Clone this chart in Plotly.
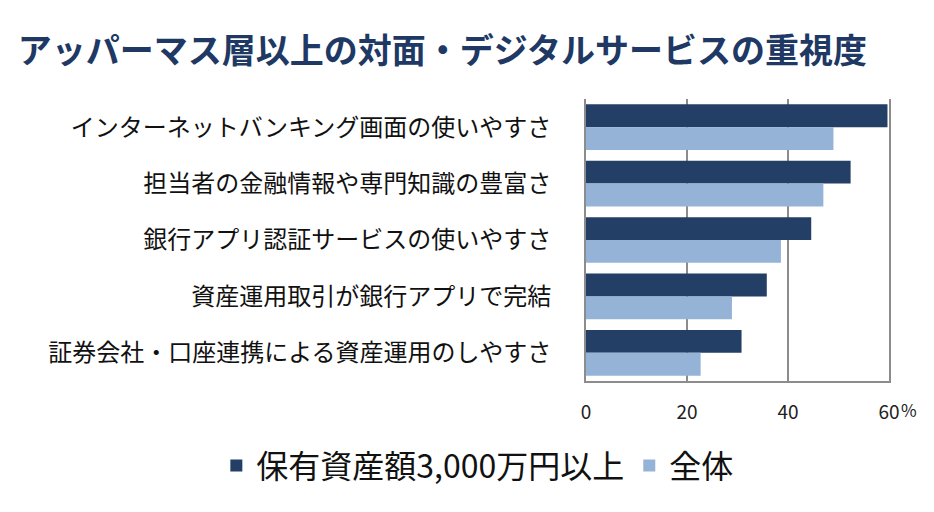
import plotly.graph_objects as go

categories = [
    "インターネットバンキング画面の使いやすさ",
    "担当者の金融情報や専門知識の豊富さ",
    "銀行アプリ認証サービスの使いやすさ",
    "資産運用取引が銀行アプリで完結",
    "証券会社・口座連携による資産運用のしやすさ",
]
series_names = ["保有資産額3,000万円以上", "全体"]
high_asset = [59.7, 52.4, 44.6, 35.8, 30.8]
overall = [49.0, 47.0, 38.6, 28.9, 22.7]
tick_vals = [0, 20, 40, 60]
tick_text = ["0", "20", "40", "60"]

DARK = "#243F66"
LIGHT = "#95B3D7"
GRID = "#8c8c8c"
FONT = "Noto Sans CJK JP"

fig = go.Figure()
fig.add_trace(go.Bar(y=categories, x=high_asset, name=series_names[0],
                     orientation="h", marker=dict(color=DARK, line=dict(width=0))))
fig.add_trace(go.Bar(y=categories, x=overall, name=series_names[1],
                     orientation="h", marker=dict(color=LIGHT, line=dict(width=0))))

fig.update_layout(
    width=934, height=512,
    margin=dict(l=586, r=45, t=99, b=131, autoexpand=False),
    paper_bgcolor="white", plot_bgcolor="white",
    barmode="group", bargap=0.19, bargroupgap=0,
    font=dict(family=FONT, color="#111111"),
    title=dict(text="<b>アッパーマス層以上の対面・デジタルサービスの重視度</b>",
               x=0.019, xanchor="left", y=0.9, yanchor="middle", yref="container",
               font=dict(family=FONT, size=34, color="#203864")),
    legend=dict(orientation="h", x=-1.22, xanchor="left",
                y=-0.30, yanchor="middle",
                font=dict(family=FONT, size=32, color="#111111")),
    xaxis=dict(range=[0, 60], tickvals=tick_vals, ticktext=tick_text,
               showgrid=True, gridcolor=GRID, gridwidth=2,
               showline=True, linecolor=GRID, linewidth=2,
               zeroline=False, ticks="outside", ticklen=13, tickcolor="rgba(0,0,0,0)",
               automargin=False,
               tickfont=dict(family=FONT, size=19, color="#222222")),
    yaxis=dict(autorange="reversed", showgrid=False, zeroline=False,
               showline=True, linecolor=GRID, linewidth=2, mirror=True,
               ticks="outside", ticklen=28, tickcolor="rgba(0,0,0,0)",
               automargin=False,
               tickfont=dict(family=FONT, size=24, color="#111111")),
)
fig.add_annotation(x=60, y=0, xref="x", yref="paper", text="%", showarrow=False,
                   xanchor="left", yanchor="top", xshift=10, yshift=-14,
                   font=dict(family=FONT, size=17, color="#222222"))

fig.write_html("out.html")
